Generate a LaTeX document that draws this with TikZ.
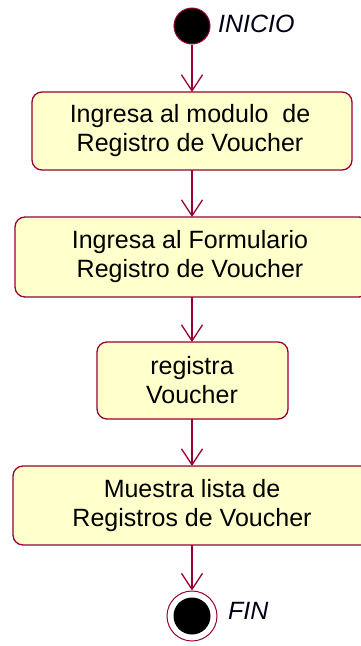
\documentclass[tikz,border=0pt]{standalone}
\usepackage{fontspec}
\setmainfont{Liberation Sans}
\usetikzlibrary{arrows.meta}
\definecolor{umlline}{HTML}{990033}
\definecolor{umlfill}{HTML}{FFFFCC}
\tikzset{
  actbox/.style={draw=umlline, line width=1.3pt, fill=umlfill, rounded corners=10pt},
  acttext/.style={align=center, font=\fontsize{25}{29}\selectfont, inner sep=0pt},
  flow/.style={draw=umlline, line width=1.3pt, -{Straight Barb[length=16pt,width=21pt,line width=1.3pt]}},
  statelabel/.style={font=\fontsize{25}{29}\selectfont\itshape, text=black!92!blue, inner sep=0pt, anchor=west}
}
\begin{document}
\begin{tikzpicture}[x=1pt,y=-1pt]
\useasboundingbox (0,0) rectangle (361,646);
\clip (0,0) rectangle (361,646);
% start
\node[circle, draw=umlline, line width=1pt, fill=black, minimum size=36pt, inner sep=0pt] (start) at (192,26) {};
\node[statelabel] (inicio) at (218,24) {INICIO};
% boxes
\path[actbox] (32,92) rectangle (352,170);
\node[acttext] (b1) at (190,131) {Ingresa al modulo \ de\\Registro de Voucher};
\coordinate (b1t) at (192,92); \coordinate (b1b) at (192,170);
\path[actbox] (15,217) rectangle (369,297);
\node[acttext] (b2) at (190,257) {Ingresa al Formulario\\Registro de Voucher};
\coordinate (b2t) at (192,217); \coordinate (b2b) at (192,297);
\path[actbox] (97,342) rectangle (288,419);
\node[acttext] (b3) at (192,380.5) {registra\\Voucher};
\coordinate (b3t) at (192,342); \coordinate (b3b) at (192,419);
\path[actbox] (13,466) rectangle (371,545);
\node[acttext] (b4) at (192,505.5) {Muestra lista de\\Registros de Voucher};
\coordinate (b4t) at (192,466); \coordinate (b4b) at (192,545);
% end
\node[circle, draw=umlline, line width=1pt, fill=white, minimum size=50pt, inner sep=0pt] (endo) at (192,616) {};
\node[circle, fill=black, minimum size=37pt, inner sep=0pt] (endi) at (192,616) {};
\node[statelabel] (fin) at (228,611) {FIN};
% flows
\draw[flow] (start.south) -- (b1t);
\draw[flow] (b1b) -- (b2t);
\draw[flow] (b2b) -- (b3t);
\draw[flow] (b3b) -- (b4t);
\draw[flow] (b4b) -- (endo.north);
\end{tikzpicture}
\end{document}
